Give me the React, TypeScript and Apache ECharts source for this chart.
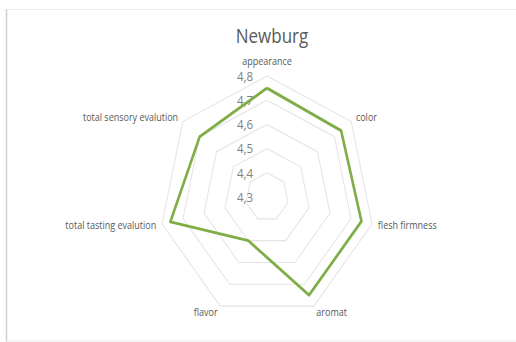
import React, { useEffect, useRef } from "react";
import * as echarts from "echarts";

// Data (Excel order, clockwise from top)
const categories = [
  "appearance",
  "color",
  "flesh firmness",
  "aromat",
  "flavor",
  "total tasting evalution",
  "total sensory evalution",
];
const newburgValues = [4.75, 4.74, 4.75, 4.75, 4.5, 4.76, 4.7];
const axisMin = 4.3;
const axisMax = 4.8;
const axisSteps = 5;
const titleText = "Newburg";

const SCALE_Y = 1.124;
const W = 516;
const H = Math.round(342 / SCALE_Y);

export default function App() {
  const ref = useRef<HTMLDivElement>(null);
  useEffect(() => {
    if (!ref.current) return;
    const chart = echarts.init(ref.current, null, { renderer: "svg" });
    // ECharts places indicators counter-clockwise; reverse (keeping first) for clockwise order
    const order = [0, ...categories.slice(1).map((_, i) => categories.length - 1 - i)];
    const indicator = order.map((idx, k) => {
      const ind: any = { name: categories[idx], min: axisMin, max: axisMax };
      if (k === 0) {
        ind.axisLabel = { show: true };
        ind.nameGap = 9;
      }
      return ind;
    });
    const values = order.map((idx) => newburgValues[idx]);
    chart.setOption({
      animation: false,
      backgroundColor: "#ffffff",
      title: {
        text: titleText,
        left: 267,
        top: 18,
        textAlign: "center",
        textStyle: {
          fontFamily: "Open Sans",
          fontSize: 17,
          fontWeight: "normal",
          color: "#595959",
        },
      },
      radar: {
        center: [267, 175.3],
        radius: 107.7,
        startAngle: 90,
        shape: "polygon",
        splitNumber: axisSteps,
        indicator,
        axisName: {
          color: "#595959",
          fontSize: 9,
          fontFamily: "Open Sans",
        },
        nameGap: 6,
        axisLine: { show: false },
        axisTick: { show: false },
        splitArea: { show: false },
        splitLine: { lineStyle: { color: "#e4e4e4", width: 1 } },
        axisLabel: {
          show: false,
          margin: 14,
          color: "#7f7f7f",
          fontSize: 11.5,
          fontFamily: "Open Sans",
          formatter: (v: number) => v.toFixed(1).replace(".", ","),
        },
      },
      graphic: [
        {
          type: "line",
          shape: { x1: 6.5, y1: 8, x2: 6.5, y2: H },
          style: { stroke: "#cfcfcf", lineWidth: 1.5 },
        },
        {
          type: "line",
          shape: { x1: 6.5, y1: 8.4, x2: W, y2: 8.4 },
          style: { stroke: "#eeeeee", lineWidth: 1 },
        },
        {
          type: "line",
          shape: { x1: 6.5, y1: H - 0.5, x2: W, y2: H - 0.5 },
          style: { stroke: "#eeeeee", lineWidth: 1 },
        },
      ],
      series: [
        {
          type: "radar",
          symbol: "none",
          lineStyle: { color: "#7fae47", width: 2.6 },
          itemStyle: { color: "#7fae47" },
          data: [{ value: values, name: titleText }],
        },
      ],
    });
    return () => chart.dispose();
  }, []);
  return (
    <div
      ref={ref}
      style={{
        position: "absolute",
        left: 0,
        top: 0,
        width: W,
        height: H,
        transform: `scaleY(${SCALE_Y})`,
        transformOrigin: "0 0",
      }}
    />
  );
}
